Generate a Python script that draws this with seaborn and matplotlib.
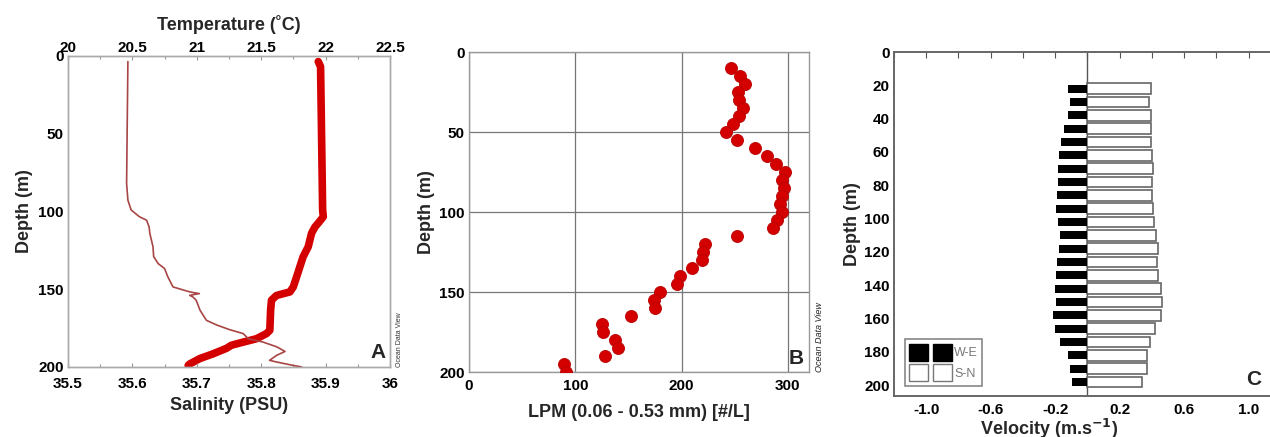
import matplotlib
matplotlib.use("Agg")
import matplotlib.pyplot as plt
import seaborn as sns
import pandas as pd
from matplotlib.patches import Patch
from matplotlib.legend_handler import HandlerTuple
from matplotlib.ticker import MultipleLocator

# ---- panel A: CTD profile ----
sal_depth = [3.6, 82, 92.7, 99, 103.4, 105.6, 110, 114, 122.7, 129, 133.5, 136.7, 142,
             148.5, 151.7, 152.8, 153.9, 155, 157, 163.5, 170, 173, 176, 178.5, 181.8,
             184, 187, 190, 192.5, 195.7, 196.8, 199, 200]
salinity = [35.593, 35.591, 35.593, 35.598, 35.611, 35.622, 35.626, 35.627, 35.632, 35.633,
            35.640, 35.650, 35.655, 35.663, 35.689, 35.704, 35.689, 35.694, 35.699, 35.705,
            35.715, 35.731, 35.751, 35.772, 35.780, 35.803, 35.824, 35.837, 35.824, 35.813,
            35.824, 35.850, 35.863]
temp_depth = [3.6, 6.9, 99, 103.4, 105.6, 110, 114, 122.7, 129, 135.6, 142, 148.5, 151.7,
              154, 157, 163.5, 176.4, 178.5, 181.8, 184, 186, 188, 191.5, 194.6, 198, 199]
temperature = [21.943, 21.961, 21.977, 21.982, 21.961, 21.917, 21.891, 21.865, 21.826, 21.800,
               21.775, 21.749, 21.723, 21.619, 21.580, 21.573, 21.567, 21.541, 21.464, 21.360,
               21.269, 21.230, 21.127, 21.023, 20.946, 20.933]
sal_ticks = [35.5, 35.6, 35.7, 35.8, 35.9, 36.0]
sal_labels = ["35.5", "35.6", "35.7", "35.8", "35.9", "36"]
temp_ticks = [20, 20.5, 21, 21.5, 22, 22.5]
temp_labels = ["20", "20.5", "21", "21.5", "22", "22.5"]

# ---- panel B: LPM particles ----
lpm_depth = [10, 15, 20, 25, 30, 35, 40, 45, 50, 55, 60, 65, 70, 75, 80, 85, 90, 95, 100,
             105, 110, 115, 120, 125, 130, 135, 140, 145, 150, 155, 160, 165, 170, 175, 180,
             185, 190, 195, 200]
lpm = [247, 255, 260, 253, 254, 258, 254, 248, 242, 252, 269, 280, 289, 297, 295, 296, 295,
       293, 295, 290, 286, 252, 222, 220, 219, 210, 199, 196, 180, 174, 175, 152, 125, 126,
       137, 140, 128, 89, 91]

# ---- panel C: currents ----
vel_depth = [22, 30, 38, 46, 54, 62, 70, 78, 86, 94, 102, 110, 118, 126, 134, 142, 150,
             158, 166, 174, 182, 190, 198]
we = [-0.124, -0.110, -0.120, -0.147, -0.166, -0.176, -0.182, -0.182, -0.189, -0.197, -0.182,
      -0.172, -0.176, -0.187, -0.193, -0.199, -0.193, -0.211, -0.199, -0.168, -0.122, -0.108,
      -0.099]
sn = [0.392, 0.383, 0.392, 0.392, 0.392, 0.398, 0.408, 0.398, 0.398, 0.404, 0.412, 0.425,
      0.439, 0.433, 0.439, 0.454, 0.464, 0.454, 0.419, 0.388, 0.371, 0.371, 0.336]
vel_ticks = [-1.0, -0.6, -0.2, 0.2, 0.6, 1.0]
vel_labels = ["-1.0", "-0.6", "-0.2", "0.2", "0.6", "1.0"]

sns.set_theme(style="white")
plt.rcParams['font.family'] = ['Liberation Sans', 'DejaVu Sans']
plt.rcParams['font.weight'] = 'bold'

fig = plt.figure(figsize=(12.7, 4.37), dpi=100)
lab = dict(fontsize=13, fontweight='bold')
tick_kw = dict(direction='in', length=3, width=0.8, labelsize=11, pad=3)


def style_spines(ax, col):
    for s in ax.spines.values():
        s.set_color(col)
        s.set_linewidth(1.0)


# Panel A
axA = fig.add_axes([68 / 1270, 1 - 367 / 437, 322 / 1270, 311 / 437])
sns.lineplot(x=salinity, y=sal_depth, sort=False, estimator=None, color='#a84545',
             lw=1.2, ax=axA)
axT = axA.twiny()
sns.lineplot(x=temperature, y=temp_depth, sort=False, estimator=None, color='#d40000',
             lw=5.5, solid_capstyle='round', ax=axT)
axA.set_zorder(axT.get_zorder() + 1)
axA.patch.set_visible(False)
axA.set_xlim(35.5, 36.0)
axT.set_xlim(20, 22.5)
axA.set_ylim(200, 0)
axA.set_xticks(sal_ticks)
axA.set_xticklabels(sal_labels)
axA.xaxis.set_minor_locator(MultipleLocator(0.05))
axT.set_xticks(temp_ticks)
axT.set_xticklabels(temp_labels)
axT.xaxis.set_minor_locator(MultipleLocator(0.25))
axA.set_yticks([0, 50, 100, 150, 200])
axA.yaxis.set_minor_locator(MultipleLocator(25))
for a in (axA, axT):
    a.tick_params(which='both', colors='#999999', labelcolor='black', **tick_kw)
    a.tick_params(which='minor', length=2)
    style_spines(a, '#aaaaaa')
axT.tick_params(axis='x', pad=1)
axA.tick_params(axis='x', pad=7)
axA.set_xlabel("Salinity (PSU)", **lab)
axA.xaxis.set_label_coords(0.5, -0.095)
axT.set_xlabel("Temperature (˚C)", **lab)
axT.xaxis.set_label_coords(0.5, 1.085)
axA.set_ylabel("Depth (m)", **lab)
axA.yaxis.set_label_coords(-0.11, 0.5)
axT.set_ylabel("")
axA.text(0.985, 0.015, "A", transform=axA.transAxes, ha='right', va='bottom',
         fontsize=15, fontweight='bold')
axA.text(1.03, 0.0, "Ocean Data View", transform=axA.transAxes, rotation=90,
         ha='center', va='bottom', fontsize=5, fontweight='normal', color='#333333')

# Panel B
axB = fig.add_axes([469 / 1270, 1 - 372 / 437, 340 / 1270, 320 / 437])
sns.scatterplot(x=lpm, y=lpm_depth, s=75, color='#d40000', edgecolor='#b80000',
                linewidth=0.6, ax=axB, zorder=3)
axB.set_xlim(0, 320)
axB.set_ylim(200, 0)
axB.set_xticks([0, 100, 200, 300])
axB.set_yticks([0, 50, 100, 150, 200])
axB.xaxis.set_minor_locator(MultipleLocator(50))
axB.grid(True, which='major', color='#777777', lw=0.9)
axB.tick_params(which='both', colors='#888888', labelcolor='black', **tick_kw)
axB.tick_params(which='minor', length=2)
axB.tick_params(axis='x', pad=5)
style_spines(axB, '#999999')
axB.set_xlabel("LPM (0.06 - 0.53 mm) [#/L]", **lab)
axB.xaxis.set_label_coords(0.5, -0.1)
axB.set_ylabel("Depth (m)", **lab)
axB.yaxis.set_label_coords(-0.1, 0.5)
axB.text(0.985, 0.012, "B", transform=axB.transAxes, ha='right', va='bottom',
         fontsize=15, fontweight='bold')
axB.text(1.03, 0.0, "Ocean Data View", transform=axB.transAxes, rotation=90,
         ha='center', va='bottom', fontsize=6.5, fontstyle='italic', fontweight='normal',
         color='#222222')

# Panel C
axC = fig.add_axes([894 / 1270, 1 - 396 / 437, 387 / 1270, 344 / 437])
dfC = pd.DataFrame({"depth": vel_depth, "we": we, "sn": sn})
sns.barplot(data=dfC, x="sn", y="depth", orient='y', native_scale=True, width=0.8,
            color='white', edgecolor='#666666', linewidth=1.2, saturation=1,
            errorbar=None, ax=axC)
sns.barplot(data=dfC, x="we", y="depth", orient='y', native_scale=True, width=0.6,
            color='black', edgecolor='black', linewidth=0, saturation=1,
            errorbar=None, ax=axC)
axC.axvline(0, color='#555555', lw=1.0, zorder=0)
axC.set_xlim(-1.2, 1.2)
axC.set_ylim(206.5, 0)
axC.set_xticks(vel_ticks)
axC.set_xticklabels(vel_labels)
axC.xaxis.set_minor_locator(MultipleLocator(0.2))
axC.set_yticks(list(range(0, 201, 20)))
axC.tick_params(which='both', colors='#555555', labelcolor='black', top=True,
                **tick_kw)
axC.tick_params(axis='x', which='both', length=4, pad=5)
style_spines(axC, '#666666')
axC.spines['top'].set_linewidth(1.4)
axC.spines['bottom'].set_linewidth(1.4)
axC.spines['left'].set_linewidth(1.4)
axC.set_xlabel(r"Velocity (m.s$^{-1}$)", **lab)
axC.xaxis.set_label_coords(0.4, -0.06)
axC.set_ylabel("Depth (m)", **lab)
axC.yaxis.set_label_coords(-0.085, 0.5)
axC.text(0.948, 0.02, "C", transform=axC.transAxes, ha='right', va='bottom',
         fontsize=15, fontweight='bold')
h_we = (Patch(facecolor='black', edgecolor='black'), Patch(facecolor='black', edgecolor='black'))
h_sn = (Patch(facecolor='white', edgecolor='#777777'), Patch(facecolor='white', edgecolor='#777777'))
leg = axC.legend([h_we, h_sn], ["W-E", "S-N"], loc='lower left',
                 bbox_to_anchor=(0.012, 0.012), handler_map={tuple: HandlerTuple(ndivide=None, pad=0.35)},
                 handlelength=3.4, handleheight=1.7, handletextpad=0.2, labelspacing=0.3,
                 borderpad=0.35, fancybox=False, framealpha=1,
                 edgecolor='#888888', prop={'size': 9, 'weight': 'normal'})
leg.get_frame().set_linewidth(1.2)
for t in leg.get_texts():
    t.set_color('#777777')

fig.savefig("out.png", dpi=100)
